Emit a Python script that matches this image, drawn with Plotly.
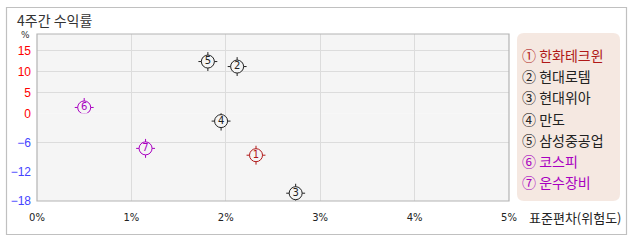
import plotly.graph_objects as go

# ---- data ----
names = ["한화테크윈", "현대로템", "현대위아", "만도", "삼성중공업", "코스피", "운수장비"]
marks = ["1", "2", "3", "4", "5", "6", "7"]
circled = ["①", "②", "③", "④", "⑤", "⑥", "⑦"]
risk = [2.32, 2.12, 2.74, 1.95, 1.81, 0.50, 1.15]      # 표준편차 (%)
ret4w = [-8.6, 11.2, -16.4, -1.6, 12.4, 1.4, -7.2]     # 4주간 수익률 (%)
colors = ["#b01818", "#222222", "#222222", "#222222", "#222222", "#a800c0", "#a800c0"]

x_ticks = [0, 1, 2, 3, 4, 5]
x_labels = ["0%", "1%", "2%", "3%", "4%", "5%"]
y_pos_ticks = [0, 5, 10, 15]
y_neg_ticks = [-6, -12, -18]
y_neg_grid = [-6]

# ---- geometry (pixels) ----
W, H = 638, 242
L, R, T, B = 37, 509, 34, 201
pw, ph = R - L, B - T
zero_px = 113.3
split = (B - zero_px) / ph  # fraction for negative part


def px(x):
    return (x - L) / pw


def py(y):
    return (B - y) / ph


fig = go.Figure()

PLOT_BG = "#f5f5f5"
for xi, yi, m, c in zip(risk, ret4w, marks, colors):
    ya = "y2" if yi >= 0 else "y"
    fig.add_trace(go.Scatter(
        x=[xi], y=[yi], yaxis=ya, mode="markers",
        marker=dict(symbol="cross-thin-open", size=13.5, color=c, line=dict(color=c, width=1)),
        hoverinfo="skip", showlegend=False))
    fig.add_trace(go.Scatter(
        x=[xi], y=[yi], yaxis=ya, mode="markers+text", text=[m],
        textposition="middle center",
        textfont=dict(family="DejaVu Sans", size=10, color=c),
        marker=dict(symbol="circle", size=13, color=PLOT_BG, line=dict(color=c, width=1)),
        showlegend=False))

fig.update_layout(
    width=W, height=H,
    margin=dict(l=L, r=W - R, t=T, b=H - B),
    paper_bgcolor="white", plot_bgcolor=PLOT_BG,
    xaxis=dict(range=[0, 5], tickvals=x_ticks, ticktext=x_labels, showgrid=True,
               gridcolor="#dcdcdc", zeroline=False, ticks="", showline=False,
               tickfont=dict(family="DejaVu Sans", size=10, color="#222"),
               ticklabelstandoff=9),
    yaxis=dict(domain=[0, split], range=[-18, 0], tickvals=y_neg_ticks,
               showgrid=False, zeroline=False, ticks="",
               minor=dict(tickvals=y_neg_grid, showgrid=True, gridcolor="#dcdcdc", ticks=""),
               tickfont=dict(family="Liberation Sans", size=12, color="#4444ff"),
               ticklabelstandoff=5),
    yaxis2=dict(domain=[split, 1], range=[0, (zero_px - T) / ((zero_px - 50.7) / 15)],
                tickvals=y_pos_ticks, anchor="x", showgrid=True, gridcolor="#dcdcdc",
                zeroline=False, ticks="",
                tickfont=dict(family="Liberation Sans", size=12, color="#ff0000"),
                ticklabelstandoff=5),
)

shapes = []
# outer frame
shapes.append(dict(type="rect", xref="paper", yref="paper",
                   x0=px(6.5), x1=px(626.5), y0=py(234.5), y1=py(7.5),
                   line=dict(color="#c0c0c0", width=1.2), fillcolor="rgba(0,0,0,0)", layer="below"))
# plot border
shapes.append(dict(type="rect", xref="paper", yref="paper", x0=0, x1=1, y0=0, y1=1,
                   line=dict(color="#b4b4b4", width=1.2), fillcolor="rgba(0,0,0,0)", layer="above"))
# legend rounded box
lx0, lx1, ly0, ly1, r = 517, 620, 33, 201, 7
path = (f"M {px(lx0 + r)} {py(ly0)} L {px(lx1 - r)} {py(ly0)} "
        f"Q {px(lx1)} {py(ly0)} {px(lx1)} {py(ly0 + r)} "
        f"L {px(lx1)} {py(ly1 - r)} Q {px(lx1)} {py(ly1)} {px(lx1 - r)} {py(ly1)} "
        f"L {px(lx0 + r)} {py(ly1)} Q {px(lx0)} {py(ly1)} {px(lx0)} {py(ly1 - r)} "
        f"L {px(lx0)} {py(ly0 + r)} Q {px(lx0)} {py(ly0)} {px(lx0 + r)} {py(ly0)} Z")
shapes.append(dict(type="path", xref="paper", yref="paper", path=path,
                   fillcolor="#f5e8e1", line=dict(width=0), layer="below"))
fig.update_layout(shapes=shapes)

KFONT = "Noto Sans CJK KR"
ann = []
ann.append(dict(text="4주간 수익률", xref="paper", yref="paper", x=px(15), y=py(20),
                xanchor="left", yanchor="middle", showarrow=False,
                font=dict(family=KFONT, size=14, color="#333")))
ann.append(dict(text="%", xref="paper", yref="paper", x=px(25), y=py(35),
                xanchor="center", yanchor="middle", showarrow=False,
                font=dict(family="DejaVu Sans", size=9, color="#333")))
ann.append(dict(text="표준편차(위험도)", xref="paper", yref="paper", x=px(527), y=py(217),
                xanchor="left", yanchor="middle", showarrow=False,
                font=dict(family=KFONT, size=13, color="#222")))
for i, (cc, n, c) in enumerate(zip(circled, names, colors)):
    ann.append(dict(text=f"{cc} {n}", xref="paper", yref="paper", x=px(520), y=py(55 + i * 21.2),
                    xanchor="left", yanchor="middle", showarrow=False,
                    font=dict(family=KFONT, size=14, color=c)))
fig.update_layout(annotations=ann)

fig.write_html("out.html")
